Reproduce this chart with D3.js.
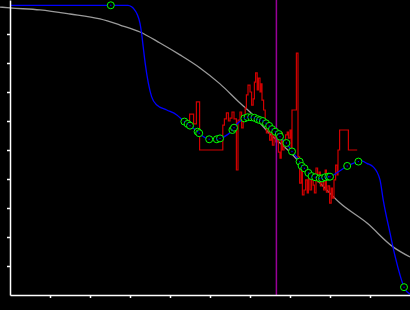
<!DOCTYPE html>
<html>
<head>
<meta charset="utf-8">
<script src="https://cdn.jsdelivr.net/npm/d3@7"></script>
<style>
  body { margin: 0; background: #000; }
  svg { display: block; }
</style>
</head>
<body>
<div class="container"></div>
<script>
// values (x units: 0..10, y units: 0..10.17)
const grayCurve = [
  [-0.25, 9.93], [0, 9.90], [0.75, 9.83], [1.5, 9.69], [2.25, 9.52], [2.75, 9.31],
  [3.25, 9.07], [3.75, 8.69], [4.25, 8.28], [4.75, 7.83], [5.25, 7.28], [5.75, 6.62],
  [6.0, 6.31], [6.25, 5.93], [6.5, 5.55], [6.75, 5.24], [7.0, 4.93], [7.25, 4.55],
  [7.75, 3.86], [8.25, 3.17], [8.925, 2.48], [9.575, 1.66], [10, 1.31]
];

const blueHead = [
  [0, 9.99], [2.25, 9.99], [2.95, 9.99], [3.04, 9.94], [3.10, 9.86], [3.17, 9.71],
  [3.25, 9.37], [3.29, 9.02], [3.33, 8.56], [3.38, 7.99], [3.46, 7.30], [3.54, 6.84],
  [3.67, 6.55], [3.92, 6.38], [4.17, 6.21]
];

const blueTail = [
  [8.20, 4.24], [8.80, 4.62], [8.92, 4.54], [9.08, 4.42], [9.25, 3.97], [9.33, 3.28],
  [9.50, 2.14], [9.63, 1.32], [9.75, 0.69], [10.0, 0.03]
];

const points = [
  [2.52, 9.99], [4.36, 5.98], [4.44, 5.90], [4.50, 5.84], [4.69, 5.63], [4.73, 5.58],
  [4.98, 5.37], [5.17, 5.37], [5.25, 5.40], [5.56, 5.69], [5.60, 5.77], [5.86, 6.09],
  [5.94, 6.13], [6.03, 6.13], [6.11, 6.11], [6.19, 6.06], [6.25, 6.03], [6.32, 6.00],
  [6.40, 5.92], [6.48, 5.83], [6.55, 5.72], [6.63, 5.63], [6.72, 5.55], [6.75, 5.46],
  [6.91, 5.24], [7.05, 4.95], [7.24, 4.60], [7.29, 4.45], [7.36, 4.37], [7.46, 4.21],
  [7.54, 4.10], [7.63, 4.06], [7.74, 4.02], [7.80, 4.02], [7.88, 4.06], [7.96, 4.08],
  [8.00, 4.08], [8.43, 4.45], [8.71, 4.60], [9.85, 0.27]
];

const redSteps = [
  [4.46, 5.86], [4.49, 6.24], [4.59, 5.90], [4.66, 6.66], [4.74, 5.00], [5.32, 5.86],
  [5.36, 6.07], [5.41, 6.28], [5.46, 6.00], [5.50, 6.10], [5.55, 6.31], [5.60, 6.07],
  [5.66, 4.31], [5.70, 6.03], [5.75, 6.31], [5.79, 5.76], [5.83, 6.17], [5.88, 6.45],
  [5.91, 6.90], [5.95, 7.24], [6.00, 7.00], [6.04, 6.55], [6.08, 6.76], [6.11, 7.34],
  [6.14, 7.66], [6.18, 7.07], [6.21, 7.48], [6.25, 7.00], [6.28, 7.28], [6.30, 6.72],
  [6.34, 6.38], [6.38, 6.03], [6.41, 5.59], [6.45, 5.79], [6.49, 5.34], [6.53, 5.59],
  [6.56, 5.17], [6.60, 5.52], [6.64, 5.28], [6.68, 5.45], [6.71, 4.93], [6.75, 4.72],
  [6.78, 5.59], [6.81, 5.00], [6.85, 5.34], [6.89, 5.52], [6.93, 5.62], [6.96, 5.41],
  [7.00, 5.69], [7.03, 5.00], [7.05, 6.38], [7.16, 8.34], [7.20, 4.76], [7.24, 3.86],
  [7.28, 4.66], [7.31, 3.45], [7.35, 3.62], [7.39, 3.97], [7.43, 3.52], [7.46, 4.03],
  [7.50, 3.62], [7.54, 4.14], [7.58, 3.79], [7.61, 3.52], [7.65, 4.38], [7.69, 3.90],
  [7.73, 4.24], [7.76, 3.76], [7.80, 4.03], [7.84, 3.62], [7.88, 4.31], [7.91, 3.55],
  [7.95, 3.76], [7.99, 3.17], [8.03, 3.69], [8.06, 3.34], [8.10, 3.97], [8.14, 4.48],
  [8.18, 4.14], [8.20, 5.00], [8.24, 5.69], [8.46, 5.00], [8.68, 5.00]
];

const markerX = 6.66;
const xTicks = [1, 2, 3, 4, 5, 6, 7, 8, 9];
const yTicks = [1, 2, 3, 4, 5, 6, 7, 8, 9];

const w = 410;
const h = 310;
const plot = {left: 10, top: 0, right: 410, bottom: 295};

const xScale = d3.scaleLinear().domain([0, 10]).range([plot.left, plot.right]);
const yScale = d3.scaleLinear().domain([0, 295 / 29]).range([plot.bottom, plot.top]);

const svg = d3.select(".container")
  .append("svg")
  .attr("width", w)
  .attr("height", h)
  .style("background", "#000");

const line = d3.line()
  .x(d => xScale(d[0]))
  .y(d => yScale(d[1]));

// gray reference curve
svg.append("path")
  .datum(grayCurve)
  .attr("fill", "none")
  .attr("stroke", "#9a9a9a")
  .attr("stroke-width", 1.3)
  .attr("d", line.curve(d3.curveMonotoneX));

// red step trace
svg.append("path")
  .datum(redSteps)
  .attr("fill", "none")
  .attr("stroke", "#d00000")
  .attr("stroke-width", 1.2)
  .attr("d", d3.line().x(d => xScale(d[0])).y(d => yScale(d[1])).curve(d3.curveStepAfter));

// purple marker
svg.append("line")
  .attr("x1", xScale(markerX))
  .attr("x2", xScale(markerX))
  .attr("y1", yScale.range()[1])
  .attr("y2", yScale(0))
  .attr("stroke", "#990099")
  .attr("stroke-width", 1.5);

// blue fitted line
const blueLine = blueHead.concat(points, blueTail).sort((a, b) => a[0] - b[0]);
svg.append("path")
  .datum(blueLine)
  .attr("fill", "none")
  .attr("stroke", "#0000ff")
  .attr("stroke-width", 1.3)
  .attr("d", d3.line().x(d => xScale(d[0])).y(d => yScale(d[1])).curve(d3.curveMonotoneX));

// green markers
const g = svg.append("g");
g.selectAll("circle.pt")
  .data(points)
  .enter()
  .append("circle")
  .attr("class", "pt")
  .attr("cx", d => xScale(d[0]))
  .attr("cy", d => yScale(d[1]))
  .attr("r", 3.5)
  .attr("fill", "#000")
  .attr("stroke", "#00ff00")
  .attr("stroke-width", 1);
g.selectAll("circle.dot")
  .data(points)
  .enter()
  .append("circle")
  .attr("class", "dot")
  .attr("cx", d => xScale(d[0]))
  .attr("cy", d => yScale(d[1]))
  .attr("r", 0.7)
  .attr("fill", "#0000ff");

// axes
const xAxis = d3.axisBottom(xScale).tickValues(xTicks).tickSize(3).tickSizeOuter(0).tickFormat("");
const yAxis = d3.axisLeft(yScale).tickValues(yTicks).tickSize(3).tickSizeOuter(0).tickFormat("");

const gx = svg.append("g")
  .attr("transform", "translate(0," + plot.bottom + ")")
  .call(xAxis);
const gy = svg.append("g")
  .attr("transform", "translate(" + plot.left + ",0)")
  .call(yAxis);

[gx, gy].forEach(a => {
  a.selectAll("path, line").attr("stroke", "#fff").attr("stroke-width", 1.5);
});
</script>
</body>
</html>
